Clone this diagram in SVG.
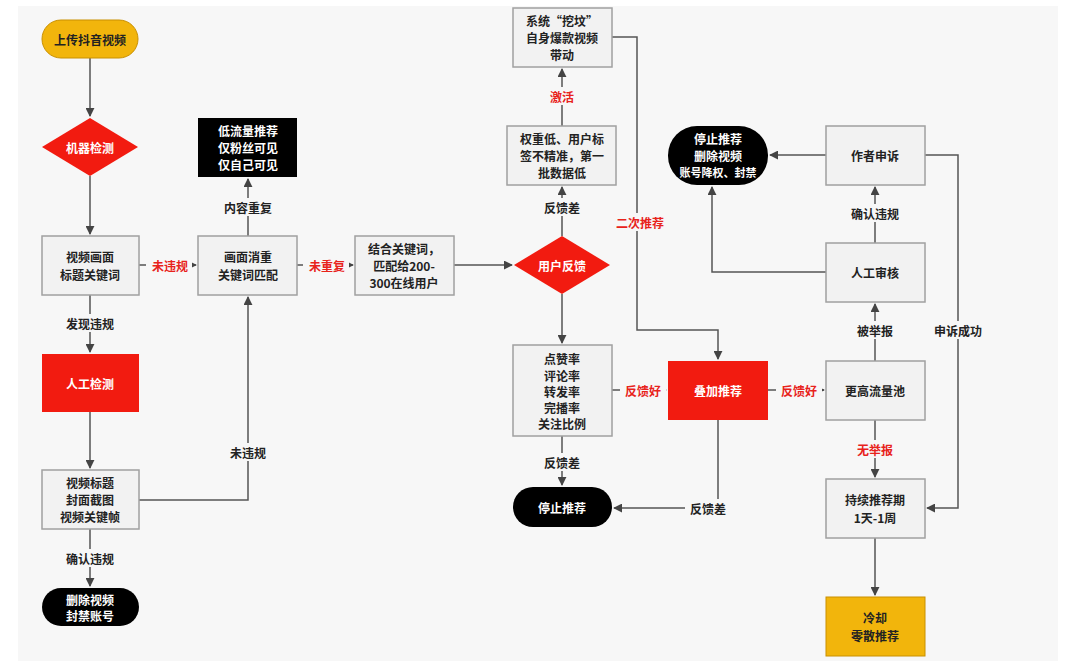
<svg xmlns="http://www.w3.org/2000/svg" width="1080" height="667" viewBox="0 0 1080 667">
<style>
text{font-family:"Noto Sans CJK SC","Liberation Sans",sans-serif;font-size:12px;font-weight:bold;text-anchor:middle;dominant-baseline:central}
.b{fill:#f2f2f2;stroke:#a0a0a0;stroke-width:1.5}
.k{fill:#000}
.r{fill:#f21b10}
.y{fill:#f2b50c;stroke:#c99000;stroke-width:1}
.w{fill:#fff}
.t{fill:#222}
.lr{fill:#e8221b}
.lb{fill:#f7f7f7}
#connectors path{fill:none;stroke:#555;stroke-width:1.5;marker-end:url(#a)}
</style>
<defs><marker id="a" viewBox="0 0 10 10" refX="9" refY="5" markerWidth="6" markerHeight="6" orient="auto"><path d="M0,0L10,5L0,10z" fill="#444"/></marker></defs>
<rect width="1080" height="667" fill="#fff"/>
<rect x="18" y="6" width="1040" height="655" fill="#f7f7f7"/>
<g id="connectors">
<path d="M90,58V116"/>
<path d="M90,176V234"/>
<path d="M90,295V352"/>
<path d="M90,412V468"/>
<path d="M90,529V586"/>
<path d="M139,265H196"/>
<path d="M139,500H248V297"/>
<path d="M248,236V179"/>
<path d="M297,265H353"/>
<path d="M454,265H512"/>
<path d="M562,236V187"/>
<path d="M562,126V69"/>
<path d="M562,294V343"/>
<path d="M562,436V485"/>
<path d="M612,37H637V330H718V359"/>
<path d="M612,390H666"/>
<path d="M718,420V508H614"/>
<path d="M768,390H824"/>
<path d="M875,361V304"/>
<path d="M875,243V187"/>
<path d="M826,155H770"/>
<path d="M826,272H712V187"/>
<path d="M875,420V477"/>
<path d="M925,155H958V508H927"/>
<path d="M875,538V595"/>
</g>
<g id="labels">
<rect class="lb" x="146" y="256" width="46" height="18"/><text x="170" y="265" class="lr">未违规</text>
<rect class="lb" x="303" y="256" width="46" height="18"/><text x="327" y="265" class="lr">未重复</text>
<rect class="lb" x="220" y="198" width="56" height="18"/><text x="248" y="207" class="t">内容重复</text>
<rect class="lb" x="62" y="314" width="56" height="18"/><text x="90" y="323" class="t">发现违规</text>
<rect class="lb" x="62" y="549" width="56" height="18"/><text x="90" y="558" class="t">确认违规</text>
<rect class="lb" x="225" y="443" width="46" height="18"/><text x="248" y="452" class="t">未违规</text>
<rect class="lb" x="539" y="198" width="46" height="18"/><text x="562" y="207" class="t">反馈差</text>
<rect class="lb" x="545" y="87" width="34" height="18"/><text x="562" y="96" class="lr">激活</text>
<rect class="lb" x="539" y="453" width="46" height="18"/><text x="562" y="462" class="t">反馈差</text>
<rect class="lb" x="612" y="213" width="56" height="18"/><text x="640" y="222" class="lr">二次推荐</text>
<rect class="lb" x="620" y="381" width="46" height="18"/><text x="643" y="390" class="lr">反馈好</text>
<rect class="lb" x="776" y="381" width="46" height="18"/><text x="799" y="390" class="lr">反馈好</text>
<rect class="lb" x="685" y="499" width="46" height="18"/><text x="708" y="508" class="t">反馈差</text>
<rect class="lb" x="852" y="321" width="46" height="18"/><text x="875" y="330" class="t">被举报</text>
<rect class="lb" x="847" y="204" width="56" height="18"/><text x="875" y="213" class="t">确认违规</text>
<rect class="lb" x="930" y="321" width="56" height="18"/><text x="958" y="330" class="t">申诉成功</text>
<rect class="lb" x="852" y="440" width="46" height="18"/><text x="875" y="449" class="lr">无举报</text>
</g>
<g id="n1"><rect class="y" x="42" y="20" width="96" height="38" rx="19"/><text x="90" y="39" class="t">上传抖音视频</text></g>
<g id="n2"><path class="r" d="M90,118L138,147L90,176L42,147z"/><text x="90" y="147" class="w">机器检测</text></g>
<g id="n3"><rect class="b" x="42" y="236" width="97" height="59"/><text x="90" y="256" class="t">视频画面</text><text x="90" y="274" class="t">标题关键词</text></g>
<g id="n4"><rect class="r" x="42" y="354" width="97" height="58"/><text x="90" y="383" class="w">人工检测</text></g>
<g id="n5"><rect class="b" x="42" y="470" width="97" height="59"/><text x="90" y="482" class="t">视频标题</text><text x="90" y="499" class="t">封面截图</text><text x="90" y="516" class="t">视频关键帧</text></g>
<g id="n6"><rect class="k" x="42" y="588" width="97" height="38" rx="19"/><text x="90" y="599" class="w">删除视频</text><text x="90" y="615" class="w">封禁账号</text></g>
<g id="n7"><rect class="k" x="198" y="118" width="99" height="59"/><text x="248" y="130" class="w">低流量推荐</text><text x="248" y="147" class="w">仅粉丝可见</text><text x="248" y="164" class="w">仅自己可见</text></g>
<g id="n8"><rect class="b" x="198" y="236" width="99" height="59"/><text x="248" y="256" class="t">画面消重</text><text x="248" y="274" class="t">关键词匹配</text></g>
<g id="n9"><rect class="b" x="355" y="236" width="99" height="59"/><text x="404" y="248" class="t">结合关键词，</text><text x="404" y="265" class="t">匹配给200-</text><text x="404" y="282" class="t">300在线用户</text></g>
<g id="n10"><path class="r" d="M562,236L610,265L562,294L514,265z"/><text x="562" y="265" class="w">用户反馈</text></g>
<g id="n11"><rect class="b" x="507" y="126" width="109" height="59"/><text x="562" y="138" class="t">权重低、用户标</text><text x="562" y="155" class="t">签不精准，第一</text><text x="562" y="172" class="t">批数据低</text></g>
<g id="n12"><rect class="b" x="513" y="8" width="99" height="59"/><text x="562" y="20" class="t">系统“挖坟”</text><text x="562" y="37" class="t">自身爆款视频</text><text x="562" y="54" class="t">带动</text></g>
<g id="n13"><rect class="b" x="513" y="345" width="99" height="91"/><text x="562" y="358" class="t">点赞率</text><text x="562" y="375" class="t">评论率</text><text x="562" y="391" class="t">转发率</text><text x="562" y="407" class="t">完播率</text><text x="562" y="423" class="t">关注比例</text></g>
<g id="n14"><rect class="k" x="513" y="487" width="99" height="40" rx="20"/><text x="562" y="507" class="w">停止推荐</text></g>
<g id="n15"><rect class="r" x="668" y="361" width="100" height="59"/><text x="718" y="390" class="w">叠加推荐</text></g>
<g id="n16"><rect class="k" x="668" y="126" width="100" height="59" rx="29"/><text x="718" y="138" class="w">停止推荐</text><text x="718" y="155" class="w">删除视频</text><text x="718" y="172" class="w" style="font-size:11px">账号降权、封禁</text></g>
<g id="n17"><rect class="b" x="826" y="126" width="99" height="59"/><text x="875" y="155" class="t">作者申诉</text></g>
<g id="n18"><rect class="b" x="826" y="243" width="99" height="59"/><text x="875" y="272" class="t">人工审核</text></g>
<g id="n19"><rect class="b" x="826" y="361" width="99" height="59"/><text x="875" y="390" class="t">更高流量池</text></g>
<g id="n20"><rect class="b" x="826" y="479" width="99" height="59"/><text x="875" y="499" class="t">持续推荐期</text><text x="875" y="517" class="t">1天-1周</text></g>
<g id="n21"><rect class="y" x="826" y="597" width="99" height="59"/><text x="875" y="617" class="t">冷却</text><text x="875" y="635" class="t">零散推荐</text></g>
</svg>
